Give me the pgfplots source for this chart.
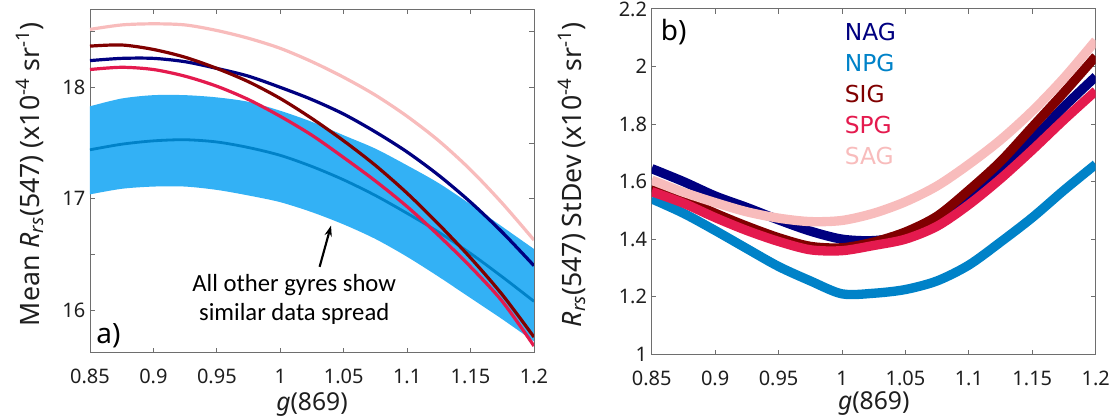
\documentclass[border=0pt]{standalone}
\usepackage{fontspec}
\setmainfont{Noto Sans}
\newfontfamily\dejavu{DejaVu Sans}
\newfontfamily\carlito{Carlito}
\usepackage{pgfplots}
\pgfplotsset{compat=1.18}
\usepackage{pgfplotstable}
\usepgfplotslibrary{fillbetween}
\usetikzlibrary{arrows.meta}

\definecolor{nag}{RGB}{0,0,128}
\definecolor{npg}{RGB}{0,130,200}
\definecolor{npgband}{RGB}{51,177,245}
\definecolor{sig}{RGB}{128,0,0}
\definecolor{spg}{RGB}{228,26,78}
\definecolor{sag}{RGB}{248,188,188}
\definecolor{axgray}{RGB}{110,110,110}
\definecolor{txt}{RGB}{30,30,30}

% panel a: mean Rrs(547) per gyre, NPG mean with its spread
\pgfplotstableread{
x     nag   npg   sig   spg   sag   lo    hi
0.85  18.24 17.44 18.37 18.16 18.52 17.04 17.83
0.875 18.26 17.49 18.38 18.18 18.56 17.09 17.90
0.9   18.26 17.52 18.34 18.16 18.57 17.11 17.93
0.925 18.23 17.53 18.27 18.10 18.56 17.11 17.93
0.95  18.17 17.51 18.17 18.01 18.51 17.08 17.91
0.975 18.10 17.46 18.05 17.89 18.44 17.03 17.87
1.0   18.00 17.39 17.90 17.74 18.35 16.97 17.79
1.025 17.89 17.29 17.72 17.57 18.23 16.88 17.69
1.05  17.76 17.17 17.52 17.37 18.09 16.77 17.57
1.075 17.60 17.03 17.30 17.16 17.93 16.64 17.45
1.1   17.42 16.87 17.05 16.93 17.74 16.48 17.30
1.125 17.21 16.70 16.77 16.67 17.52 16.30 17.14
1.15  16.97 16.51 16.47 16.39 17.26 16.11 16.95
1.175 16.70 16.30 16.14 16.08 16.96 15.92 16.75
1.2   16.40 16.08 15.76 15.68 16.63 15.72 16.55
}\meantab

% panel b: StDev of Rrs(547) per gyre
\pgfplotstableread{
x     nag   npg   sig   spg   sag
0.85  1.645 1.54  1.58  1.565 1.605
0.875 1.60  1.49  1.54  1.525 1.563
0.9   1.55  1.43  1.49  1.475 1.527
0.925 1.51  1.367 1.445 1.43  1.495
0.95  1.467 1.305 1.405 1.392 1.473
0.975 1.428 1.255 1.375 1.363 1.461
1.0   1.40  1.21  1.37  1.36  1.465
1.025 1.395 1.212 1.39  1.378 1.49
1.05  1.412 1.225 1.425 1.40  1.53
1.075 1.46  1.255 1.48  1.445 1.585
1.1   1.545 1.31  1.57  1.52  1.66
1.125 1.638 1.39  1.67  1.61  1.745
1.15  1.745 1.475 1.79  1.71  1.845
1.175 1.86  1.57  1.91  1.815 1.96
1.2   1.965 1.66  2.035 1.915 2.09
}\sdtab

\pgfplotsset{
  gyre/.style={
    scale only axis, width=333pt,
    xmin=0.85, xmax=1.2,
    xtick={0.85,0.9,0.95,1,1.05,1.1,1.15,1.2},
    xticklabels={0.85,0.9,0.95,1,1.05,1.1,1.15,1.2},
    axis line style={axgray, line width=0.7pt},
    every tick/.style={axgray, line width=0.7pt},
    major tick length=3.5pt, minor tick length=3.5pt,
    tick label style={font=\fontsize{15}{17}\selectfont, text=txt},
    xticklabel style={yshift=-9pt},
    label style={font=\fontsize{20}{23}\selectfont, text=txt},
    xlabel={\textit{g}(869)},
    xlabel style={at={(axis description cs:0.5,-0.15)}, anchor=center,
      font=\fontsize{18.5}{21}\selectfont},
    ylabel style={anchor=center},
    /pgf/number format/assume math mode=true,
  },
  fat/.style={line width=2.4pt, smooth},
  band/.style={line width=7pt, smooth, line join=round},
}

\begin{document}
\begin{tikzpicture}
\begin{axis}[gyre, height=257.5pt, at={(0pt,0pt)}, anchor=south west,
  ymin=15.62, ymax=18.70,
  ytick={16,17,18}, yticklabels={16,17,18},
  minor ytick={16.5,17.5,18.5},
  ylabel={Mean \textit{R}\textsubscript{\textit{rs}}(547) (x10\textsuperscript{-4} sr\textsuperscript{-1})},
  ylabel style={at={(axis description cs:-0.135,0.52)}},
]
\addplot[draw=none, name path=lo, smooth] table[x=x, y=lo] {\meantab};
\addplot[draw=none, name path=hi, smooth] table[x=x, y=hi] {\meantab};
\addplot[npgband, draw=none] fill between[of=lo and hi];
\addplot[npg, line width=2.1pt, smooth] table[x=x, y=npg] {\meantab};
\addplot[nag, fat] table[x=x, y=nag] {\meantab};
\addplot[sig, fat] table[x=x, y=sig] {\meantab};
\addplot[spg, fat] table[x=x, y=spg] {\meantab};
\addplot[sag, fat] table[x=x, y=sag] {\meantab};
\draw[-{Stealth[length=8pt, width=5.5pt]}, line width=1.6pt, black]
  (axis cs:1.031,16.39) -- (axis cs:1.040,16.76);
\node[align=center, font=\carlito\fontsize{18.5}{21.5}\selectfont, text=black]
  at (axis cs:1.011,16.10) {All other gyres show\\similar data spread};
\node[anchor=south west, inner sep=0pt, font=\fontsize{21}{24}\selectfont, text=black]
  at (rel axis cs:0.014,0.012) {a)};
\end{axis}

\begin{axis}[gyre, height=259pt, at={(421.3pt,-1.2pt)}, anchor=south west,
  ymin=1, ymax=2.2,
  ytick={1,1.2,1.4,1.6,1.8,2,2.2}, yticklabels={1,1.2,1.4,1.6,1.8,2,2.2},
  ylabel={\textit{R}\textsubscript{\textit{rs}}(547) StDev (x10\textsuperscript{-4} sr\textsuperscript{-1})},
  ylabel style={at={(axis description cs:-0.18,0.52)}},
  xlabel style={at={(axis description cs:0.5,-0.143)}},
]
\addplot[nag, band] table[x=x, y=nag] {\sdtab};
\addplot[npg, band] table[x=x, y=npg] {\sdtab};
\addplot[sig, band] table[x=x, y=sig] {\sdtab};
\addplot[spg, band] table[x=x, y=spg] {\sdtab};
\addplot[sag, band] table[x=x, y=sag] {\sdtab};
\node[anchor=north west, inner sep=0pt, font=\fontsize{21}{24}\selectfont, text=black]
  at (rel axis cs:0.02,0.972) {b)};
\begin{scope}[every node/.style={anchor=west, inner sep=0pt, font=\dejavu\fontsize{17.5}{21}\selectfont}]
\node[text=nag] at (axis cs:1.002,2.119) {NAG};
\node[text=npg] at (axis cs:1.002,2.011) {NPG};
\node[text=sig] at (axis cs:1.002,1.903) {SIG};
\node[text=spg] at (axis cs:1.002,1.796) {SPG};
\node[text=sag] at (axis cs:1.002,1.688) {SAG};
\end{scope}
\end{axis}
\pgfresetboundingbox
\path (-67.5pt,-48.2pt) rectangle (765.75pt,264.5pt);
\end{tikzpicture}
\end{document}
